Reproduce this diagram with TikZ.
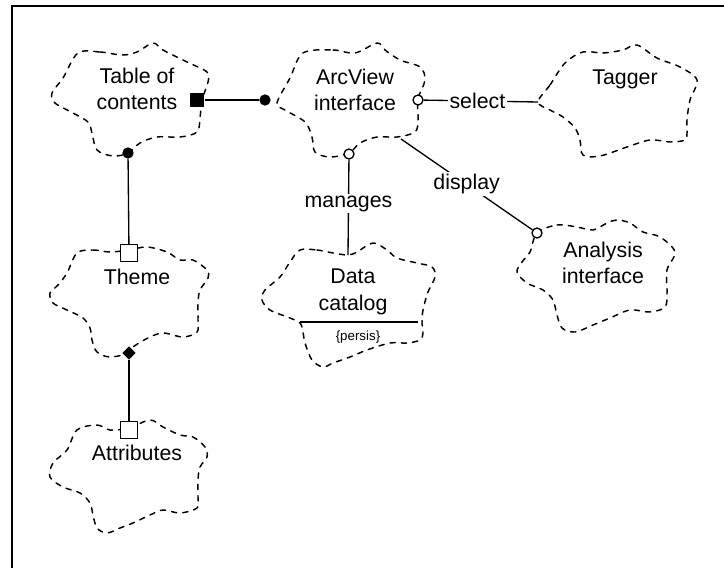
\documentclass[tikz,border=0pt]{standalone}
\usepackage{fontspec}
\setmainfont{Liberation Sans}
\usepackage{tikz}
\usetikzlibrary{shapes.geometric}

\begin{document}
\begin{tikzpicture}[x=0.75pt,y=0.75pt,yscale=-1,xscale=1,
  blob/.style={line width=1.1pt, dash pattern=on 4pt off 4.5pt, line cap=round},
  link/.style={line width=1pt},
  txt/.style={font=\fontsize{16}{20}\selectfont, align=center, inner sep=0.75pt},
  lbl/.style={font=\fontsize{16}{20}\selectfont, fill=white, inner sep=1.5pt},
  dotend/.style={circle, fill=black, inner sep=0pt, minimum size=8.5pt},
  ringend/.style={circle, draw, line width=1pt, fill=white, inner sep=0pt, minimum size=7.5pt},
  boxend/.style={rectangle, draw, line width=1pt, fill=white, inner sep=0pt, minimum size=12.5pt},
  solidbox/.style={rectangle, fill=black, inner sep=0pt, minimum size=11pt},
  diaend/.style={diamond, fill=black, inner sep=0pt, minimum size=10pt}]
\useasboundingbox (0,0) rectangle (724,568);

%Frame: left and top edge
\draw [line width=2.2pt] (12,568) -- (12,6) -- (724,6) ;

%Shape: Cloud (Table of contents)
\draw [blob] plot [smooth cycle, tension=0.55] coordinates {(78,53) (100,52) (122,55) (137,52) (153,43) (163,50) (187,62) (207,72) (208,82) (202,100) (200,118) (197,132) (180,137) (157,137) (140,143) (128,153) (113,156) (97,150) (92,133) (88,122) (73,113) (55,103) (52,93) (63,78)} ;
%Shape: Cloud (ArcView interface)
\draw [blob] plot [smooth cycle, tension=0.55] coordinates {(303,53) (333,50) (355,53) (377,43) (385,50) (400,60) (420,67) (425,80) (418,99) (418,120) (415,132) (397,137) (377,137) (360,143) (349,153) (330,157) (315,152) (312,137) (305,122) (285,110) (277,103) (290,78)} ;
%Shape: Cloud (Tagger)
\draw [blob] plot [smooth cycle, tension=0.55] coordinates {(538,102) (550,85) (565,63) (583,52) (603,53) (623,50) (637,45) (657,58) (680,67) (697,80) (690,100) (687,120) (687,133) (685,140) (670,142) (650,140) (627,147) (600,156) (583,155) (580,140) (575,128) (563,117) (550,110)} ;
%Shape: Cloud (Analysis interface)
\draw [blob] plot [smooth cycle, tension=0.55] coordinates {(537,233) (557,225) (577,227) (593,230) (607,223) (617,220) (630,223) (643,232) (660,237) (675,252) (667,270) (667,293) (665,307) (650,312) (630,310) (610,318) (593,325) (575,332) (562,328) (557,315) (553,300) (543,290) (527,283) (517,272) (522,262) (530,252)} ;
%Shape: Cloud (Data catalog)
\draw [blob] plot [smooth cycle, tension=0.55] coordinates {(300,250) (317,250) (333,253) (348,255) (357,252) (373,243) (387,250) (397,258) (417,263) (432,267) (435,277) (428,292) (423,310) (422,323) (423,333) (420,340) (407,343) (390,343) (367,350) (350,357) (333,363) (323,367) (312,360) (305,343) (303,332) (300,323) (290,318) (270,310) (262,300) (265,290) (280,277) (290,262)} ;
%Shape: Cloud (Theme)
\draw [blob] plot [smooth cycle, tension=0.55] coordinates {(77,253) (93,250) (110,252) (129,250) (147,247) (167,252) (180,260) (193,260) (207,270) (208,278) (200,290) (198,303) (198,320) (197,332) (183,337) (163,333) (148,338) (133,347) (129,353) (110,357) (97,352) (92,340) (90,328) (83,318) (67,310) (53,303) (50,293) (58,285) (67,273)} ;
%Shape: Cloud (Attributes)
\draw [blob] plot [smooth cycle, tension=0.55] coordinates {(77,430) (97,425) (110,430) (129,428) (150,420) (163,427) (180,435) (193,437) (205,447) (207,457) (200,467) (198,480) (198,497) (197,508) (180,513) (163,510) (150,515) (133,523) (120,528) (107,533) (97,528) (93,515) (90,503) (80,493) (63,487) (50,477) (53,463) (67,450)} ;

%Straight Lines: persistence bar
\draw [link] (300,322) -- (418,322) ;

% Text Node
\node [txt] (toc) at (137,89) {Table of\\contents};
% Text Node
\node [txt] (arc) at (355,90) {ArcView\\interface};
% Text Node
\node [txt] (tag) at (625,79) {Tagger};
% Text Node
\node [txt] (ana) at (603,263) {Analysis\\interface};
% Text Node
\node [txt] (dat) at (353,292) {Data\\catalog};
% Text Node
\node [font=\fontsize{10}{12}\selectfont, inner sep=0.75pt] (per) at (358,337) {\{persis\}};
% Text Node
\node [txt] (thm) at (137,277) {Theme};
% Text Node
\node [txt] (att) at (137,453) {Attributes};

%Ends of the links
\node [solidbox] (tocR) at (197,100) {};
\node [dotend] (arcL) at (265,100) {};
\node [ringend] (arcS) at (418,100) {};
\node [ringend] (arcM) at (349,154) {};
\coordinate (arcD) at (401,139);
\coordinate (tagL) at (538,102);
\coordinate (datT) at (348,255);
\node [ringend] (anaT) at (537,233) {};
\node [dotend] (tocB) at (128,153) {};
\node [boxend] (thmT) at (129,253) {};
\node [diaend] (thmB) at (129,353) {};
\node [boxend] (attT) at (129,430) {};

%Straight Lines
\draw [link] (tocR) -- (arcL) ;
\draw [link] (arcS) -- node [lbl, pos=0.47] {select} (tagL) ;
\draw [link] (arcM) -- node [lbl, pos=0.46] {manages} (datT) ;
\draw [link] (arcD) -- node [lbl, pos=0.5] {display} (anaT) ;
\draw [link] (tocB) -- (thmT) ;
\draw [link] (thmB) -- (attT) ;

\end{tikzpicture}
\end{document}
